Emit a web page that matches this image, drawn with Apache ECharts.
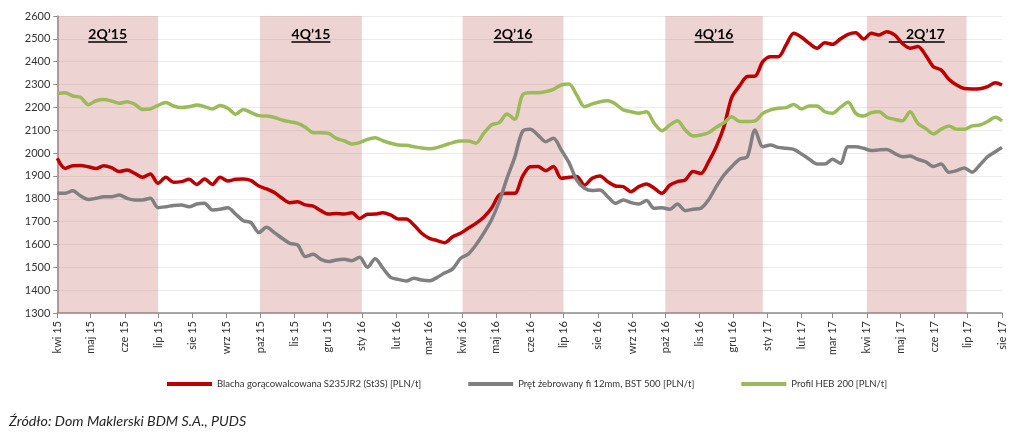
<!DOCTYPE html>
<html><head><meta charset="utf-8">
<script src="https://cdn.jsdelivr.net/npm/echarts@6/dist/echarts.min.js"></script>
<style>html,body{margin:0;padding:0;background:#fff}#c{width:1023px;height:438px}</style>
</head><body><div id="c"></div>
<script>
const monthNames = ['sty','lut','mar','kwi','maj','cze','lip','sie','wrz','paź','lis','gru'];
const axisStart = '2015-04-01';
const axisEnd = '2017-08-01';
const seriesNames = ['Blacha gorącowalcowana S235JR2 (St3S) [PLN/t]', 'Pręt żebrowany fi 12mm, BST 500 [PLN/t]', 'Profil HEB 200 [PLN/t]'];
// weekly observations starting at axisStart
const blacha = [1977,1933,1945,1946,1940,1932,1945,1936,1919,1926,1911,1894,1908,1868,1894,1872,1875,1885,1863,1886,1863,1894,1878,1885,1886,1879,1856,1843,1827,1802,1783,
1787,1773,1768,1748,1733,1736,1733,1739,1714,1732,1733,1739,1729,1711,1711,1685,1649,1627,1617,1608,1634,1649,1671,1692,1719,1758,1816,1824,1824,1897,1940,
1941,1923,1941,1890,1894,1897,1860,1890,1900,1875,1856,1853,1831,1853,1865,1846,1824,1860,1875,1882,1919,1911,1962,2028,2116,2244,2294,2335,2337,2400,
2422,2422,2473,2524,2507,2480,2459,2483,2476,2499,2520,2527,2499,2524,2517,2531,2517,2480,2459,2466,2429,2378,2364,2323,2298,2283,2281,2282,2291,2308,2298];
const pret = [1824,1824,1835,1812,1797,1802,1809,1809,1816,1802,1795,1795,1802,1761,1765,1771,1773,1765,1777,1780,1751,1754,1761,1733,1704,1695,1652,1675,1652,1627,1605,
1598,1547,1557,1535,1525,1532,1535,1529,1544,1500,1538,1496,1456,1447,1440,1452,1444,1441,1456,1476,1493,1539,1558,1598,1649,1707,1787,1889,1981,2094,2104,
2079,2050,2065,2014,1958,1882,1846,1836,1838,1809,1780,1795,1783,1777,1792,1758,1761,1754,1777,1748,1754,1758,1795,1853,1904,1941,1973,1984,2101,2028,
2035,2025,2021,2016,1996,1973,1952,1952,1973,1955,2028,2028,2021,2011,2014,2016,1999,1984,1987,1973,1962,1941,1952,1916,1923,1935,1916,1948,1984,2006,2025];
const profil = [2261,2264,2250,2244,2212,2229,2235,2228,2218,2225,2213,2191,2193,2209,2221,2206,2199,2203,2210,2203,2193,2208,2196,2170,2191,2177,2164,2162,2156,2145,2137,
2130,2113,2089,2089,2086,2064,2054,2040,2046,2060,2067,2054,2043,2035,2034,2028,2022,2019,2024,2035,2046,2053,2053,2043,2086,2123,2133,2171,2148,2254,2264,
2264,2269,2279,2298,2302,2254,2203,2215,2225,2229,2215,2189,2181,2174,2181,2130,2098,2123,2142,2101,2075,2079,2089,2113,2133,2159,2138,2138,2141,2174,
2189,2196,2199,2213,2193,2206,2206,2181,2174,2200,2222,2174,2162,2177,2181,2157,2148,2141,2181,2130,2108,2084,2104,2119,2104,2104,2119,2123,2138,2157,2141];
const quarterLabels = ['2Q’15','4Q’15','2Q’16','4Q’16','2Q’17'];
const quarterStarts = ['2015-04-01','2015-10-01','2016-04-01','2016-10-01','2017-04-01'];
const quarterEnds = ['2015-07-01','2016-01-01','2016-07-01','2016-12-28','2017-06-30'];
const sourceText = 'Źródło: Dom Maklerski BDM S.A., PUDS';

const DAY = 86400000;
function iso(t){ return new Date(t).toISOString().slice(0,10); }
const t0 = Date.parse(axisStart + 'T00:00:00Z'), t1 = Date.parse(axisEnd + 'T00:00:00Z');
const days = [];
for (let t = t0; t <= t1; t += DAY) days.push(iso(t));
const weekDates = blacha.map((_, i) => iso(Math.min(t0 + i * 7 * DAY, t1)));
const pair = arr => arr.map((v, i) => [weekDates[i], v]);
const isMonthStart = (i, v) => v.slice(8) === '01';
const FONT = 'Lato, "Noto Sans", sans-serif';

const chart = echarts.init(document.getElementById('c'), null, {renderer: 'canvas'});
const colors = ['#c00000', '#808080', '#9bbb59'];
const lineSeries = [blacha, pret, profil].map((arr, i) => ({
  name: seriesNames[i], type: 'line', data: pair(arr), showSymbol: false, smooth: 0.3, z: 2,
  lineStyle: {width: 3.5, color: colors[i]}, itemStyle: {color: colors[i]}
}));
const areaData = quarterLabels.map((q, i) => {
  const last = i === 4;
  return [{xAxis: quarterStarts[i], name: q, label: {formatter: last ? '{t2|' + q + '}\n{u2|}' : '{t|' + q + '}\n{u|}'}}, {xAxis: quarterEnds[i]}];
});
chart.setOption({
  animation: false,
  textStyle: {fontFamily: FONT},
  title: {text: sourceText, left: 4, top: 409, textStyle: {fontSize: 14.3, fontStyle: 'italic', fontWeight: 'normal', color: '#262626', fontFamily: FONT}},
  grid: {left: 57.3, right: 21, top: 16, bottom: 125},
  legend: {data: seriesNames, top: 374, left: 162, icon: 'rect', itemWidth: 45, itemHeight: 4, itemGap: 47,
    textStyle: {fontSize: 9.5, color: '#333', fontFamily: FONT}},
  xAxis: {type: 'category', data: days, boundaryGap: false,
    axisLine: {lineStyle: {color: '#8c8c8c', width: 1.5}},
    axisTick: {interval: isMonthStart, length: 5, lineStyle: {color: '#8c8c8c'}},
    axisLabel: {interval: isMonthStart, rotate: 90, margin: 8, fontSize: 11, color: '#333',
      formatter: v => monthNames[+v.slice(5,7) - 1] + ' ' + v.slice(2,4)},
    splitLine: {show: false}},
  yAxis: {type: 'value', min: 1300, max: 2600, interval: 100,
    axisLine: {show: true, lineStyle: {color: '#8c8c8c', width: 1.5}},
    axisTick: {show: true, length: 4, lineStyle: {color: '#8c8c8c'}},
    axisLabel: {fontSize: 11, color: '#333', margin: 7, formatter: v => String(v)},
    splitLine: {lineStyle: {color: '#ebebeb'}}},
  series: lineSeries.concat([{
    name: 'quarters', type: 'line', data: pair(blacha), showSymbol: false, silent: true, z: 5,
    lineStyle: {opacity: 0}, tooltip: {show: false},
    markArea: {silent: true, itemStyle: {color: 'rgba(200,110,110,0.3)'},
      label: {show: true, position: 'insideTop', distance: 12,
        rich: {
          t: {fontSize: 14, fontWeight: 'bold', color: '#000', lineHeight: 13, fontFamily: FONT},
          u: {width: 39, height: 1.5, lineHeight: 2, backgroundColor: '#000'},
          t2: {fontSize: 14, fontWeight: 'bold', color: '#000', lineHeight: 13, width: 56, align: 'right', fontFamily: FONT},
          u2: {width: 56, height: 1.5, lineHeight: 2, backgroundColor: '#000'}
        }},
      data: areaData}
  }])
});
</script></body></html>
